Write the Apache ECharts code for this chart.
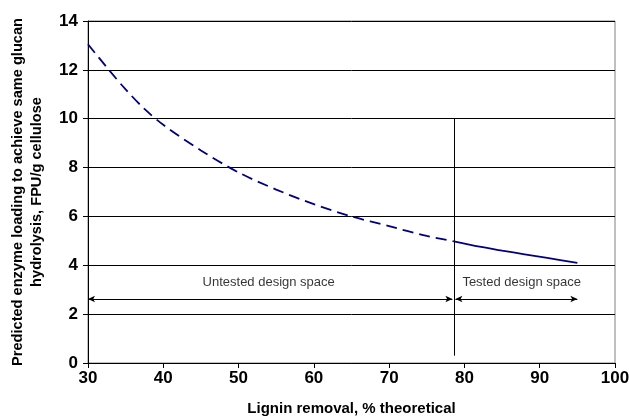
<!DOCTYPE html>
<html><head><meta charset="utf-8">
<script src="https://cdn.jsdelivr.net/npm/echarts@6/dist/echarts.min.js"></script>
<style>html,body{margin:0;padding:0;background:#fff}#c{width:629px;height:419px}</style>
</head><body><div id="c"></div>
<script>
var untestedX = [30, 32.5, 35, 37.5, 40, 45, 50, 55, 60, 65, 70, 75, 78.6];
var untestedY = [13.05, 12.1, 11.2, 10.4, 9.75, 8.7, 7.8, 7.1, 6.5, 6.0, 5.6, 5.2, 4.98];
var testedX = [78.6, 82, 85, 88, 91, 95];
var testedY = [4.98, 4.76, 4.6, 4.45, 4.3, 4.1];
var xTicks = [30, 40, 50, 60, 70, 80, 90, 100];
var yTicks = [0, 2, 4, 6, 8, 10, 12, 14];
var boundaryX = 78.6;
var boundaryY = [0.3, 10];
var arrowY = 2.62;
var untestedRange = [30, 78.4];
var testedRange = [78.8, 95];
var labels = [
  {name: 'Untested design space', x: 54, y: 3.3},
  {name: 'Tested design space', x: 87.6, y: 3.3}
];

function zip(a, b) { return a.map(function (v, i) { return [v, b[i]]; }); }

var chart = echarts.init(document.getElementById('c'));
chart.setOption({
  animation: false,
  backgroundColor: '#fff',
  grid: {left: 88, right: 14, top: 21, bottom: 56, show: true, borderColor: '#808080', borderWidth: 1,
    containLabel: false, outerBoundsMode: 'none'},
  xAxis: {
    type: 'value', min: 30, max: 100, interval: 10,
    name: 'Lignin removal, % theoretical', nameLocation: 'middle', nameGap: 38,
    nameTextStyle: {fontFamily: 'Liberation Sans', fontWeight: 'bold', fontSize: 15, color: '#000'},
    axisLine: {show: true, lineStyle: {color: '#000', width: 1}},
    axisTick: {show: true, length: 5, inside: false, lineStyle: {color: '#000'}},
    axisLabel: {fontFamily: 'Liberation Sans', fontWeight: 'bold', fontSize: 17, color: '#000', margin: 7,
      formatter: function (v) { return xTicks.indexOf(v) >= 0 ? String(v) : ''; }},
    splitLine: {show: false}
  },
  yAxis: {
    type: 'value', min: 0, max: 14, interval: 2,
    name: 'Predicted enzyme loading to achieve same glucan\nhydrolysis, FPU/g cellulose',
    nameLocation: 'middle', nameGap: 42, nameRotate: 90,
    nameTextStyle: {fontFamily: 'Liberation Sans', fontWeight: 'bold', fontSize: 14.6, color: '#000', lineHeight: 19},
    axisLine: {show: true, lineStyle: {color: '#000', width: 1}},
    axisTick: {show: true, length: 5, lineStyle: {color: '#000'}},
    axisLabel: {fontFamily: 'Liberation Sans', fontWeight: 'bold', fontSize: 17, color: '#000', margin: 10,
      formatter: function (v) { return yTicks.indexOf(v) >= 0 ? String(v) : ''; }},
    splitLine: {show: true, lineStyle: {color: '#000', width: 1}}
  },
  series: [
    {type: 'line', data: zip(untestedX, untestedY), smooth: 0.3, symbol: 'none',
      lineStyle: {color: '#000080', width: 1.8, type: [11, 6]}, z: 5},
    {type: 'line', data: zip(testedX, testedY), smooth: 0.3, symbol: 'none',
      lineStyle: {color: '#000080', width: 1.8, type: 'solid'}, z: 5},
    {type: 'line', data: [], symbol: 'none', silent: true,
      markLine: {silent: true, animation: false, label: {show: false},
        lineStyle: {color: '#000', width: 1, type: 'solid'},
        data: [
          [{coord: [boundaryX, boundaryY[0]], symbol: 'none'}, {coord: [boundaryX, boundaryY[1]], symbol: 'none'}],
          [{coord: [untestedRange[0], arrowY], symbol: 'arrow', symbolSize: [5, 7]}, {coord: [untestedRange[1], arrowY], symbol: 'arrow', symbolSize: [5, 7]}],
          [{coord: [testedRange[0], arrowY], symbol: 'arrow', symbolSize: [5, 7]}, {coord: [testedRange[1], arrowY], symbol: 'arrow', symbolSize: [5, 7]}]
        ]}
    },
    {type: 'scatter', data: labels.map(function (l) { return {name: l.name, value: [l.x, l.y]}; }),
      symbolSize: 0, silent: true,
      label: {show: true, position: 'inside', formatter: '{b}', fontFamily: 'Liberation Sans', fontSize: 13, color: '#000'}}
  ]
});
</script>
</body></html>
